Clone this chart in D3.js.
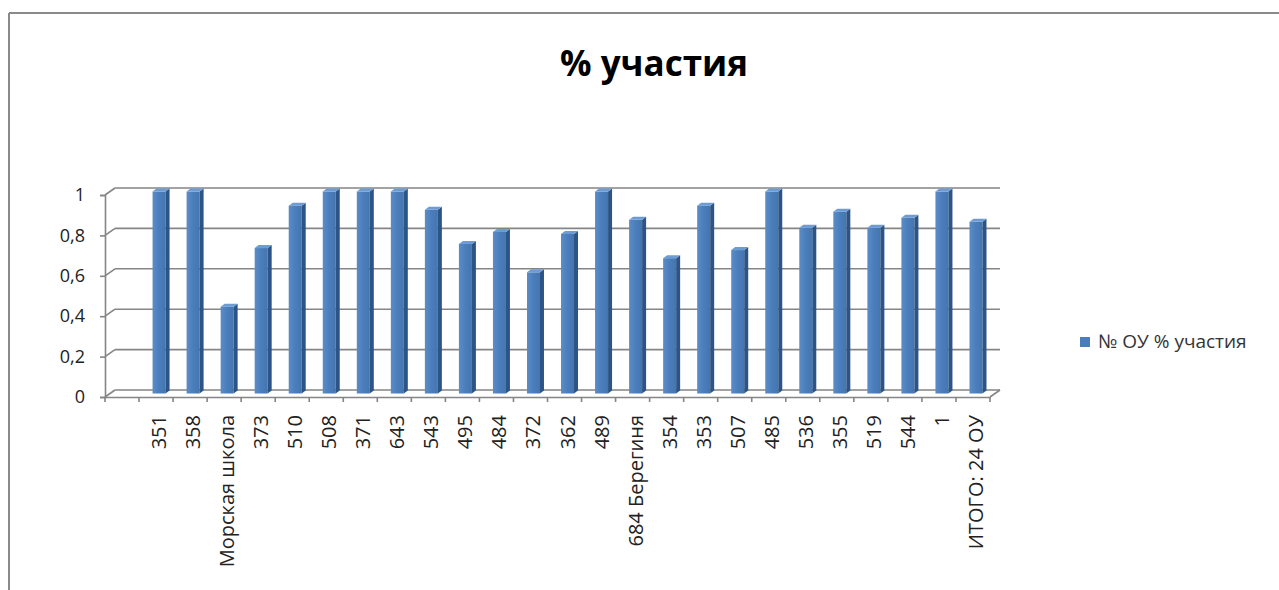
<!DOCTYPE html>
<html>
<head>
<meta charset="utf-8">
<script src="https://cdn.jsdelivr.net/npm/d3@7"></script>
<style>
  body { margin: 0; background: #fff; }
  text { font-family: "Open Sans", "DejaVu Sans", sans-serif; }
</style>
</head>
<body>
<div id="chart"></div>
<script>
// categories (first one is empty in the source sheet)
var schools = ["", "351", "358", "Морская школа", "373", "510", "508", "371", "643", "543", "495",
	"484", "372", "362", "489", "684 Берегиня", "354", "353", "507", "485", "536",
	"355", "519", "544", "1", "ИТОГО: 24 ОУ"];
var share = [null, 1, 1, 0.43, 0.72, 0.93, 1, 1, 1, 0.91, 0.74,
	0.8, 0.6, 0.79, 1, 0.86, 0.67, 0.93, 0.71, 1, 0.82,
	0.9, 0.82, 0.87, 1, 0.85];
var yTicks = [0, 0.2, 0.4, 0.6, 0.8, 1];
var seriesName = "№ ОУ % участия";
var title = "% участия";

var W = 1279, H = 590,
	depthX = 10, depthY = -7,
	barColor = "#4a7ebb", sideColor = "#2c5486", topColor = "#6d9bd3",
	gridColor = "#858585";

var svg = d3.select("#chart").append("svg")
	.attr("width", W)
	.attr("height", H);

// front face gradient (slight highlight on the left)
var grad = svg.append("defs").append("linearGradient")
	.attr("id", "barFace").attr("x1", "0").attr("x2", "1").attr("y1", "0").attr("y2", "0");
grad.append("stop").attr("offset", "0").attr("stop-color", "#5a8cc8");
grad.append("stop").attr("offset", "0.5").attr("stop-color", barColor);
grad.append("stop").attr("offset", "1").attr("stop-color", "#4475b0");

// outer frame of the chart area (cut off at right and bottom)
svg.append("line").attr("x1", 9).attr("y1", 13).attr("x2", W).attr("y2", 13)
	.attr("stroke", "#8a8a8a").attr("stroke-width", 2);
svg.append("line").attr("x1", 9).attr("y1", 13).attr("x2", 9).attr("y2", H)
	.attr("stroke", "#8a8a8a").attr("stroke-width", 2);

var xScale = d3.scaleBand().domain(d3.range(schools.length)).range([105, 990]);
var yScale = d3.scaleLinear().domain([0, 1]).range([397, 195]);
var format = function(d) { return d3.format("")(d).replace(".", ","); };

// back wall gridlines and side wall lines
var grid = svg.append("g").attr("class", "grid");
grid.selectAll("line.back")
	.data(yTicks)
	.enter().append("line")
	.attr("class", "back")
	.attr("x1", 105 + depthX)
	.attr("x2", 990 + depthX)
	.attr("y1", function(d) { return yScale(d) + depthY; })
	.attr("y2", function(d) { return yScale(d) + depthY; })
	.attr("stroke", gridColor).attr("stroke-width", 1.6);
grid.selectAll("line.side")
	.data(yTicks)
	.enter().append("line")
	.attr("class", "side")
	.attr("x1", 105)
	.attr("x2", 105 + depthX)
	.attr("y1", function(d) { return yScale(d); })
	.attr("y2", function(d) { return yScale(d) + depthY; })
	.attr("stroke", gridColor).attr("stroke-width", 1.6);
// floor right edge
grid.append("line")
	.attr("x1", 990).attr("y1", yScale(0))
	.attr("x2", 990 + depthX).attr("y2", yScale(0) + depthY)
	.attr("stroke", gridColor).attr("stroke-width", 1.6);

// bars, drawn at half depth
var barW = 13, sideW = 4, capH = 3;
var bars = svg.append("g").attr("class", "bars")
	.selectAll("g.bar")
	.data(share.map(function(v, i) { return { i: i, v: v }; }).filter(function(d) { return d.v != null; }))
	.enter().append("g")
	.attr("class", "bar")
	.attr("transform", function(d) {
		var cx = xScale(d.i) + xScale.bandwidth() / 2 + depthX / 2;
		return "translate(" + (cx - (barW + sideW) / 2) + "," + (depthY / 2) + ")";
	});
bars.append("rect")
	.attr("x", 0)
	.attr("y", function(d) { return yScale(d.v); })
	.attr("width", barW)
	.attr("height", function(d) { return yScale(0) - yScale(d.v); })
	.attr("fill", "url(#barFace)");
bars.append("path")
	.attr("d", function(d) {
		var t = yScale(d.v), b = yScale(0);
		return "M" + barW + "," + t + "L" + (barW + sideW) + "," + (t - capH) +
			"L" + (barW + sideW) + "," + (b - capH) + "L" + barW + "," + b + "Z";
	})
	.attr("fill", sideColor);
bars.append("path")
	.attr("d", function(d) {
		var t = yScale(d.v);
		return "M0," + t + "L" + sideW + "," + (t - capH) + "L" + (barW + sideW) + "," + (t - capH) +
			"L" + barW + "," + t + "Z";
	})
	.attr("fill", topColor);

// y axis (front edge)
var yAxis = d3.axisLeft(yScale).tickValues(yTicks).tickFormat(format).tickSize(5).tickPadding(15);
var gy = svg.append("g")
	.attr("class", "axis axis-y")
	.attr("transform", "translate(105,0)")
	.call(yAxis);
gy.select(".domain").attr("stroke", gridColor).attr("stroke-width", 1.6);
gy.selectAll(".tick line").attr("stroke", gridColor).attr("stroke-width", 1.6);
gy.selectAll("text").attr("fill", "#222").style("font-size", "18px");

// x axis (front floor edge)
var xAxis = d3.axisBottom(xScale).tickSize(0).tickFormat(function(i) { return schools[i]; });
var gx = svg.append("g")
	.attr("class", "axis axis-x")
	.attr("transform", "translate(0," + yScale(0) + ")")
	.call(xAxis);
gx.select(".domain").attr("stroke", gridColor).attr("stroke-width", 1.6);
gx.selectAll(".tick text")
	.attr("transform", "rotate(-90)")
	.attr("x", -18)
	.attr("y", 3)
	.attr("dy", "0.35em")
	.attr("text-anchor", "end")
	.attr("fill", "#222")
	.style("font-size", "20px");
// tick marks at category boundaries
gx.selectAll("line.sep")
	.data(d3.range(schools.length + 1))
	.enter().append("line")
	.attr("class", "sep")
	.attr("x1", function(i) { return 105 + i * xScale.step(); })
	.attr("x2", function(i) { return 105 + i * xScale.step(); })
	.attr("y1", 0).attr("y2", 5)
	.attr("stroke", gridColor).attr("stroke-width", 1.6);

// title
svg.append("text")
	.attr("x", 654).attr("y", 76)
	.attr("text-anchor", "middle")
	.style("font-size", "35px")
	.style("font-weight", "bold")
	.attr("fill", "#000")
	.text(title);

// legend
var legend = svg.append("g").attr("transform", "translate(1080,337)");
legend.append("rect").attr("width", 10).attr("height", 10).attr("fill", barColor);
legend.append("text").attr("x", 18).attr("y", 11)
	.style("font-size", "19px").attr("fill", "#333")
	.text(seriesName);
</script>
</body>
</html>
